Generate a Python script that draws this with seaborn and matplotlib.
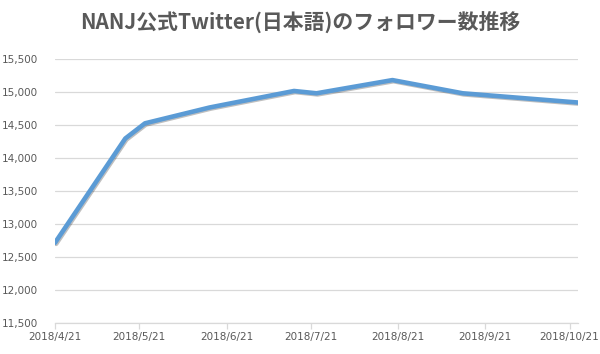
import pandas as pd
import numpy as np
import matplotlib
matplotlib.use('Agg')
import matplotlib.pyplot as plt
import matplotlib.patheffects as pe
import seaborn as sns

# データ
dates = ['2018-04-21', '2018-05-16', '2018-05-23', '2018-06-15', '2018-07-15',
         '2018-07-23', '2018-08-19', '2018-09-13', '2018-10-24']
followers = [12720, 14300, 14530, 14770, 15020, 14985, 15185, 14985, 14845]
tick_dates = ['2018-04-21', '2018-05-21', '2018-06-21', '2018-07-21',
              '2018-08-21', '2018-09-21', '2018-10-21']
y_ticks = [11500, 12000, 12500, 13000, 13500, 14000, 14500, 15000, 15500]
title = 'NANJ公式Twitter(日本語)のフォロワー数推移'

df = pd.DataFrame({'date': pd.to_datetime(dates), 'followers': followers})

sns.set_style('white')
plt.rcParams['font.family'] = ['DejaVu Sans', 'Noto Sans CJK JP']

gray = '#595959'
fig = plt.figure(figsize=(6.0, 3.54), dpi=100)
ax = fig.add_axes([55 / 600, 1 - 323.3 / 354, (578 - 55) / 600, (323.3 - 59.3) / 354])

sns.lineplot(data=df, x='date', y='followers', ax=ax, color='#5b9bd5', linewidth=3.3,
             solid_capstyle='round', solid_joinstyle='round',
             path_effects=[pe.SimpleLineShadow(offset=(0.8, -0.8), shadow_color='#000000', alpha=0.25),
                           pe.Normal()])

ax.set_xlim(df['date'].min(), df['date'].max())
ax.set_ylim(11500, 15500)
ax.set_yticks(y_ticks)
ax.set_yticklabels([f'{v:,}' for v in y_ticks])
td = pd.to_datetime(tick_dates)
ax.set_xticks(td)
ax.set_xticklabels([f'{d.year}/{d.month}/{d.day}' for d in td])

ax.grid(axis='y', color='#d9d9d9', linewidth=0.9)
ax.set_axisbelow(True)
for s in ['top', 'right', 'left']:
    ax.spines[s].set_visible(False)
ax.spines['bottom'].set_color('#d9d9d9')
ax.spines['bottom'].set_linewidth(0.9)
ax.tick_params(axis='x', colors=gray, labelsize=7.5, length=4, width=0.9,
               color='#d9d9d9', direction='out', bottom=True, pad=2)
ax.tick_params(axis='y', colors=gray, labelsize=7.5, length=0, pad=12)
ax.set_xlabel('')
ax.set_ylabel('')

fig.text(0.5, 1 - 22 / 354, title, ha='center', va='center', fontsize=15,
         fontweight='bold', color=gray, family=['Noto Sans CJK JP', 'DejaVu Sans'])

fig.savefig('out.png', dpi=100, facecolor='white')
